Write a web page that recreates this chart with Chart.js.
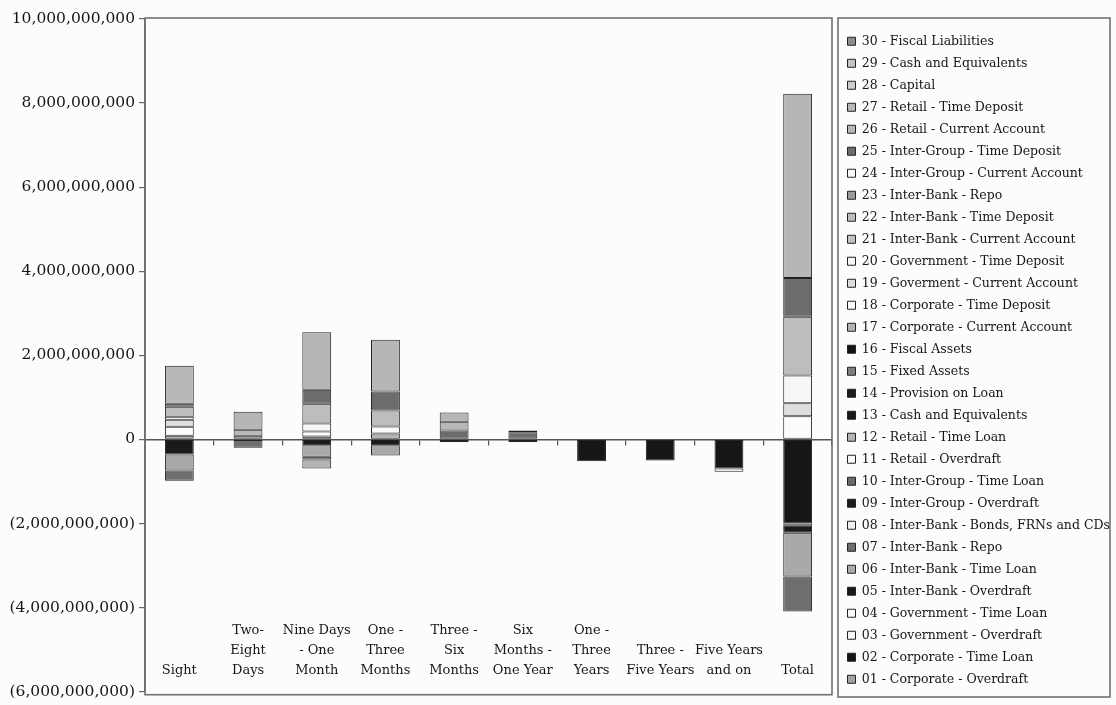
<!DOCTYPE html>
<html><head><meta charset="utf-8">
<script src="https://cdn.jsdelivr.net/npm/chart.js@4.4.1/dist/chart.umd.min.js"></script>
<style>
html,body{margin:0;padding:0;background:#fcfcfa;}
#wrap{width:1116px;height:705px;position:relative;}
</style>
</head><body><div id="wrap"><canvas id="c"></canvas></div>
<script>
// ---- data (values in billions) ----
const CATEGORIES = [
  ['', '', 'Sight'], ['Two-', 'Eight', 'Days'], ['Nine Days', '- One', 'Month'],
  ['One -', 'Three', 'Months'], ['Three -', 'Six', 'Months'], ['Six', 'Months -', 'One Year'],
  ['One -', 'Three', 'Years'], ['', 'Three -', 'Five Years'], ['', 'Five Years', 'and on'], ['', '', 'Total']
];
const Y_TICK_VALUES = [-6e9, -4e9, -2e9, 0, 2e9, 4e9, 6e9, 8e9, 10e9];
const UNIT = 1e9;

const SERIES_NAMES = [
  '01 - Corporate - Overdraft', '02 - Corporate - Time Loan', '03 - Government - Overdraft',
  '04 - Government - Time Loan', '05 - Inter-Bank - Overdraft', '06 - Inter-Bank - Time Loan',
  '07 - Inter-Bank - Repo', '08 - Inter-Bank - Bonds, FRNs and CDs', '09 - Inter-Group - Overdraft',
  '10 - Inter-Group - Time Loan', '11 - Retail - Overdraft', '12 - Retail - Time Loan',
  '13 - Cash and Equivalents', '14 - Provision on Loan', '15 - Fixed Assets', '16 - Fiscal Assets',
  '17 - Corporate - Current Account', '18 - Corporate - Time Deposit', '19 - Goverment - Current Account',
  '20 - Government - Time Deposit', '21 - Inter-Bank - Current Account', '22 - Inter-Bank - Time Deposit',
  '23 - Inter-Bank - Repo', '24 - Inter-Group - Current Account', '25 - Inter-Group - Time Deposit',
  '26 - Retail - Current Account', '27 - Retail - Time Deposit', '28 - Capital',
  '29 - Cash and Equivalents', '30 - Fiscal Liabilities'
];
const SERIES_COLORS = [
  '#a3a3a3', '#161616', '#f6f6f6', '#fbfbfb', '#1a1a1a', '#a9a9a9', '#6f6f6f', '#efefef', '#1b1b1b', '#6a6a6a',
  '#fafafa', '#b4b4b4', '#181818', '#1c1c1c', '#7e7e7e', '#151515', '#b2b2b2', '#fbfbfb', '#dedede', '#f7f7f7',
  '#c2c2c2', '#bdbdbd', '#9a9a9a', '#fafafa', '#6c6c6c', '#b8b8b8', '#b6b6b6', '#cdcdcd', '#c3c3c3', '#8d8d8d'
];

//            Sight  2-8D   9D-1M  1-3M   3-6M   6M-1Y  1-3Y   3-5Y   5Y+    Total
const S01 = [ 0,     0,     0,     0,     0,     0,     0,     0,     0,     0    ];
const S02 = [ 0,     0,     0,     0,     0,     0,    -0.52, -0.50, -0.69, -2.00 ];
const S03 = [ 0,     0,     0,     0,     0,     0,     0,     0,     0,     0    ];
const S04 = [ 0,     0,     0,     0,     0,     0,     0,     0,    -0.08, -0.05 ];
const S05 = [-0.36,  0,    -0.14, -0.14,  0,     0,     0,     0,     0,    -0.17 ];
const S06 = [-0.38,  0,    -0.27, -0.24,  0,     0,     0,     0,     0,    -1.04 ];
const S07 = [-0.24, -0.20, -0.07,  0,    -0.06, -0.06,  0,     0,     0,    -0.83 ];
const S08 = [ 0,     0,     0,     0,     0,     0,     0,     0,     0,     0    ];
const S09 = [ 0,     0,     0,     0,     0,     0,     0,     0,     0,     0    ];
const S10 = [ 0,     0,     0,     0,     0,     0,     0,     0,     0,     0    ];
const S11 = [ 0,     0,     0,     0,     0,     0,     0,     0,     0,     0    ];
const S12 = [ 0,     0,    -0.21,  0,     0,     0,     0,     0,     0,     0    ];
const S13 = [ 0,     0,     0,     0,     0,     0,     0,     0,     0,     0    ];
const S14 = [ 0,     0,     0,     0,     0,     0,     0,     0,     0,     0    ];
const S15 = [ 0,     0,     0,     0,     0,     0,     0,     0,     0,     0    ];
const S16 = [ 0,     0,     0,     0,     0,     0,     0,     0,     0,     0    ];
const S17 = [ 0.09,  0,     0.07,  0.14,  0,     0,     0,     0,     0,     0    ];
const S18 = [ 0.21,  0,     0.12,  0.17,  0,     0,     0,     0,     0,     0.55 ];
const S19 = [ 0.17,  0,     0,     0,     0,     0,     0,     0,     0,     0.31 ];
const S20 = [ 0.07,  0,     0.19,  0,     0,     0,     0,     0,     0,     0.66 ];
const S21 = [ 0,     0,     0,     0,     0,     0,     0,     0,     0,     0    ];
const S22 = [ 0.24,  0,     0.47,  0.38,  0,     0,     0,     0,     0,     1.40 ];
const S23 = [ 0,     0.09,  0,     0,     0,     0,     0,     0,     0,     0    ];
const S24 = [ 0,     0,     0,     0,     0,     0,     0,     0,     0,     0    ];
const S25 = [ 0.07,  0,     0.33,  0.45,  0.21,  0.17,  0,     0,     0,     0.92 ];
const S26 = [ 0.90,  0.14,  0,     0,     0.21,  0,     0,     0,     0,     0    ];
const S27 = [ 0,     0.43,  1.37,  1.23,  0.22,  0.04,  0,     0,     0,     4.38 ];
const S28 = [ 0,     0,     0,     0,     0,     0,     0,     0,     0,     0    ];
const S29 = [ 0,     0,     0,     0,     0,     0,     0,     0,     0,     0    ];
const S30 = [ 0,     0,     0,     0,     0,     0,     0,     0,     0,     0    ];
const SERIES = [S01,S02,S03,S04,S05,S06,S07,S08,S09,S10,S11,S12,S13,S14,S15,
                S16,S17,S18,S19,S20,S21,S22,S23,S24,S25,S26,S27,S28,S29,S30];

// ---- chart ----
const SERIF = "'DejaVu Serif', 'Liberation Serif', serif";
const TEXT = '#161616';
const AXIS = '#666';
const LEGEND_W = 284;

const fmt = v => v < 0 ? '(' + Math.abs(v).toLocaleString('en-US') + ')' : v.toLocaleString('en-US');

const frames = {
  id: 'frames',
  beforeLayout(chart) {
    const lg = chart.legend;
    if (lg && !lg._patched) {
      const f = lg.fit;
      lg.fit = function () { f.call(this); this.width = LEGEND_W; };
      const d = lg.draw;
      lg.draw = function () { const c = this.ctx; c.save(); c.translate(6, -2); d.call(this); c.restore(); };
      lg._patched = true;
    }
  },
  afterDraw(chart) {
    const ctx = chart.ctx, a = chart.chartArea, lg = chart.legend;
    ctx.save();
    ctx.strokeStyle = '#707070';
    ctx.lineWidth = 1.6;
    ctx.strokeRect(a.left, a.top - 1, a.right - a.left, a.bottom - a.top + 4);
    ctx.strokeRect(lg.left + 6, lg.top - 1, lg.right - lg.left - 12, lg.bottom - lg.top - 7);
    ctx.restore();
  }
};

new Chart(document.getElementById('c'), {
  type: 'bar',
  data: {
    labels: CATEGORIES,
    datasets: SERIES.map((s, i) => ({
      label: SERIES_NAMES[i],
      data: s.map(v => v * UNIT),
      backgroundColor: SERIES_COLORS[i],
      borderColor: '#222',
      borderWidth: 1,
      borderSkipped: false,
      categoryPercentage: 1,
      barPercentage: 0.42,
      xAxisID: 'x',
      yAxisID: 'y'
    }))
  },
  options: {
    responsive: true,
    maintainAspectRatio: false,
    animation: false,
    layout: { padding: { top: 19, bottom: 0, left: 0, right: 0 } },
    plugins: {
      tooltip: { enabled: false },
      legend: {
        position: 'right',
        reverse: true,
        title: { display: true, text: ' ', font: { size: 0.5, lineHeight: 1 }, padding: 0 },
        labels: {
          boxWidth: 8, boxHeight: 8, padding: 9.5,
          color: TEXT,
          font: { family: SERIF, size: 12.5 }
        }
      }
    },
    scales: {
      x: {
        type: 'category',
        position: { y: 0 },
        stacked: true,
        offset: true,
        grid: { display: true, offset: true, drawOnChartArea: false, drawTicks: true, tickLength: 5, color: '#555', lineWidth: 1.2 },
        border: { display: true, color: '#555', width: 1.5 },
        ticks: { display: false }
      },
      x2: {
        type: 'category',
        position: 'bottom',
        offset: true,
        grid: { display: false, drawTicks: false, tickLength: 0 },
        border: { display: false },
        ticks: {
          autoSkip: false, maxRotation: 0, minRotation: 0, mirror: true, padding: 51,
          color: TEXT,
          font: { family: SERIF, size: 13, lineHeight: 20 / 13 }
        },
        afterFit(s) { s.height = 11; }
      },
      y: {
        type: 'linear',
        stacked: true,
        min: -6e9,
        max: 10e9,
        afterBuildTicks(s) { s.ticks = Y_TICK_VALUES.map(v => ({ value: v })); },
        afterFit(s) { s.width = 145; },
        grid: { display: true, drawOnChartArea: false, drawTicks: true, tickLength: 6, color: AXIS, lineWidth: 1.2 },
        border: { display: true, color: AXIS, width: 1.6 },
        ticks: {
          padding: 4,
          color: TEXT,
          font: { family: SERIF, size: 15.5 },
          callback: v => fmt(v)
        }
      }
    }
  },
  plugins: [frames]
});
</script>
</body></html>
